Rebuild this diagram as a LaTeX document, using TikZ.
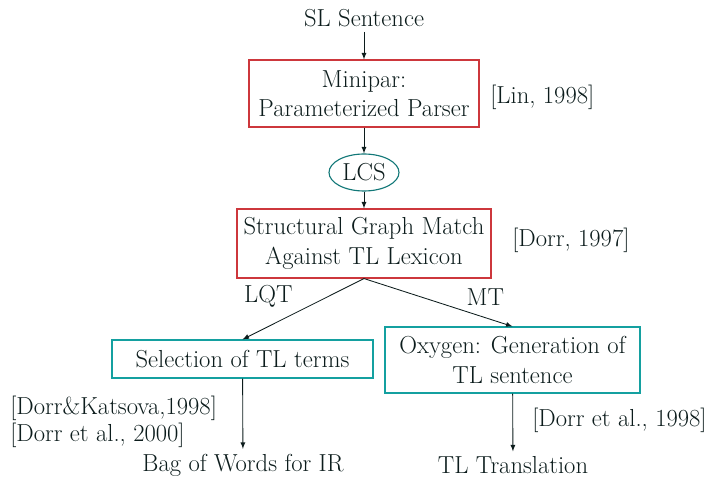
\documentclass[tikz,border=0pt]{standalone}
\usetikzlibrary{positioning,shapes.geometric,arrows}
\definecolor{ink}{RGB}{12,28,28}
\definecolor{redline}{RGB}{205,55,60}
\definecolor{tealline}{RGB}{20,160,160}
\begin{document}
\begin{tikzpicture}[x=0.025cm,y=-0.025cm,
  every node/.style={font=\rmfamily\fontsize{17.5}{21}\selectfont,text=ink},
  rbox/.style={rectangle,draw=redline,thick,align=center,inner sep=0pt},
  tbox/.style={rectangle,draw=tealline,thick,align=center,inner sep=0pt},
  oval/.style={ellipse,draw=tealline!70!ink,thick,inner sep=0pt,minimum width=70*0.025cm,minimum height=37*0.025cm},
  cite/.style={anchor=west,inner sep=0pt},
  link/.style={draw=ink,semithick,-latex}]
	\useasboundingbox (0,0) rectangle (712,478);
	% inputs and main chain
	\node (sl) at (364,18) {SL Sentence};
	\node[rbox,minimum width=230*0.025cm,minimum height=67*0.025cm] (parser) at (364,93.5) {Minipar:\\Parameterized Parser};
	\node[oval] (lcs) at (364,172.5) {LCS};
	\node[rbox,minimum width=254*0.025cm,minimum height=69*0.025cm] (match) at (364,243.5) {Structural Graph Match\\Against TL Lexicon};
	\node[tbox,minimum width=261*0.025cm,minimum height=38*0.025cm] (select) at (242.5,359) {Selection of TL terms};
	\node[tbox,minimum width=255*0.025cm,minimum height=66*0.025cm] (oxygen) at (512.5,360) {Oxygen: Generation of\\TL sentence};
	\node (bag) at (243,465) {Bag of Words for IR};
	\node (trans) at (513,465) {TL Translation};
	% references
	\node[cite] (lin) at (490,97) {[Lin, 1998]};
	\node[cite] (dorr97) at (512,240) {[Dorr, 1997]};
	\node[cite] (dk98) at (10,408) {[Dorr\&Katsova,1998]};
	\node[cite] (d00) at (10,435) {[Dorr et al., 2000]};
	\node[cite] (d98) at (532,420) {[Dorr et al., 1998]};
	% connectors
	\draw[link] (sl) -- (parser);
	\draw[link] (parser) -- (lcs);
	\draw[link] (lcs) -- (match);
	\draw[link] (match.south) -- node[pos=0.55,anchor=south east,inner sep=3pt] {LQT} (select.north);
	\draw[link] (match.south) -- node[pos=0.66,anchor=south west,inner sep=3pt] {MT} (oxygen.north);
	\draw[link] (select) -- (bag);
	\draw[link] (oxygen) -- (trans);
\end{tikzpicture}
\end{document}
